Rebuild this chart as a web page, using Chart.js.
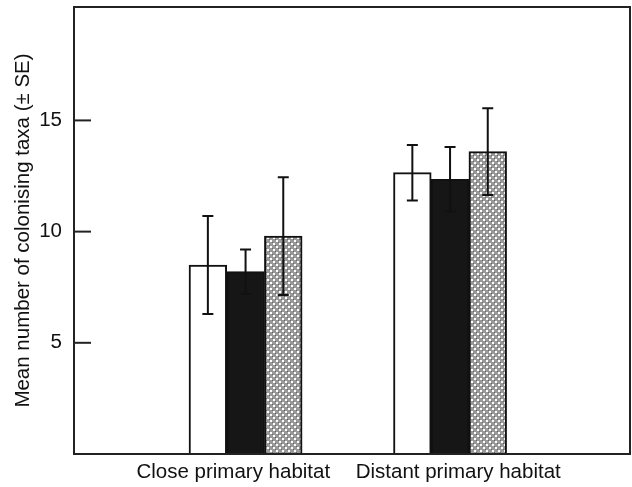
<!DOCTYPE html>
<html lang="en">
<head>
    <meta charset="UTF-8">
    <title>Mean number of colonising taxa</title>
    <script src="https://cdn.jsdelivr.net/npm/chart.js"></script>
    <style>
        body {
            margin: 0;
            background-color: white;
        }
        #chart-box {
            width: 632px;
            height: 487px;
        }
    </style>
</head>
<body>
    <div id="chart-box">
        <canvas id="taxaChart" width="632" height="487"></canvas>
    </div>

    <script>
        const categories = ['Close primary habitat', 'Distant primary habitat'];
        const categoryPos = [1, 2];
        // the printed labels sit a little off the group centres
        const labelPos = [0.94, 2.04];

        const whiteMeans = [8.5, 12.65];
        const whiteSE = [2.2, 1.25];
        const blackMeans = [8.2, 12.35];
        const blackSE = [1.0, 1.45];
        const hatchMeans = [9.8, 13.6];
        const hatchSE = [2.65, 1.95];

        const yTicks = [5, 10, 15];

        function hatchPattern() {
            const c = document.createElement('canvas');
            c.width = 6;
            c.height = 6;
            const g = c.getContext('2d');
            g.fillStyle = '#999999';
            g.fillRect(0, 0, 6, 6);
            g.fillStyle = '#ffffff';
            g.fillRect(0, 0, 2, 2);
            g.fillRect(3, 3, 2, 2);
            g.fillStyle = '#666666';
            g.fillRect(2, 2, 1, 1);
            g.fillRect(5, 5, 1, 1);
            return g.createPattern(c, 'repeat');
        }

        function points(means) {
            return means.map((m, i) => ({ x: categoryPos[i], y: m }));
        }

        // error bars and frame drawn on top of the bars
        const extras = {
            id: 'extras',
            afterDatasetsDraw(chart) {
                const ctx = chart.ctx;
                const y = chart.scales.y;
                const area = chart.chartArea;
                ctx.save();
                ctx.strokeStyle = '#111';
                ctx.lineWidth = 2;
                chart.data.datasets.forEach((ds, d) => {
                    const meta = chart.getDatasetMeta(d);
                    meta.data.forEach((bar, i) => {
                        const m = ds.data[i].y;
                        const e = ds.se[i];
                        const top = y.getPixelForValue(m + e);
                        const bot = y.getPixelForValue(m - e);
                        ctx.beginPath();
                        ctx.moveTo(bar.x, top);
                        ctx.lineTo(bar.x, bot);
                        ctx.moveTo(bar.x - 5.5, top);
                        ctx.lineTo(bar.x + 5.5, top);
                        ctx.moveTo(bar.x - 5.5, bot);
                        ctx.lineTo(bar.x + 5.5, bot);
                        ctx.stroke();
                    });
                });
                // inward ticks
                ctx.strokeStyle = '#222';
                yTicks.forEach(v => {
                    const py = y.getPixelForValue(v);
                    ctx.beginPath();
                    ctx.moveTo(area.left, py);
                    ctx.lineTo(area.left + 17, py);
                    ctx.stroke();
                });
                ctx.strokeRect(area.left, area.top, area.right - area.left, area.bottom - area.top);
                ctx.restore();
            }
        };

        const ctx = document.getElementById('taxaChart').getContext('2d');
        const taxaChart = new Chart(ctx, {
            type: 'bar',
            data: {
                datasets: [
                    { data: points(whiteMeans), se: whiteSE, backgroundColor: '#ffffff' },
                    { data: points(blackMeans), se: blackSE, backgroundColor: '#161616' },
                    { data: points(hatchMeans), se: hatchSE, backgroundColor: hatchPattern() }
                ]
            },
            options: {
                responsive: false,
                animation: false,
                layout: {
                    padding: { top: 7, right: 2, left: 0, bottom: 0 }
                },
                datasets: {
                    bar: {
                        borderColor: '#111',
                        borderWidth: 2,
                        barThickness: 37.7
                    }
                },
                plugins: {
                    legend: { display: false },
                    tooltip: { enabled: false }
                },
                scales: {
                    x: {
                        type: 'linear',
                        offset: false,
                        min: 0.161,
                        max: 2.88,
                        grid: { display: false, drawTicks: false },
                        border: { display: false },
                        afterBuildTicks: scale => {
                            scale.ticks = labelPos.map(v => ({ value: v }));
                        },
                        afterFit: scale => {
                            scale.height = 33;
                            scale.paddingLeft = 0;
                            scale.paddingRight = 0;
                        },
                        ticks: {
                            padding: 6,
                            color: '#111',
                            maxRotation: 0,
                            autoSkip: false,
                            font: { family: '"Liberation Sans", Arial, sans-serif', size: 20.5 },
                            callback: (value, index) => categories[index]
                        }
                    },
                    y: {
                        min: 0,
                        max: 20.1,
                        grid: { display: false, drawTicks: false },
                        border: { display: false },
                        afterFit: scale => {
                            scale.width = 74;
                            scale.paddingTop = 0;
                            scale.paddingBottom = 0;
                        },
                        afterBuildTicks: scale => {
                            scale.ticks = yTicks.map(v => ({ value: v }));
                        },
                        ticks: {
                            padding: 12,
                            color: '#111',
                            font: { family: '"Liberation Sans", Arial, sans-serif', size: 20.5 }
                        },
                        title: {
                            display: true,
                            text: 'Mean number of colonising taxa (± SE)',
                            color: '#111',
                            padding: { top: 11, bottom: 0 },
                            font: { family: '"Liberation Sans", Arial, sans-serif', size: 20.5 }
                        }
                    }
                }
            },
            plugins: [extras]
        });
    </script>
</body>
</html>
